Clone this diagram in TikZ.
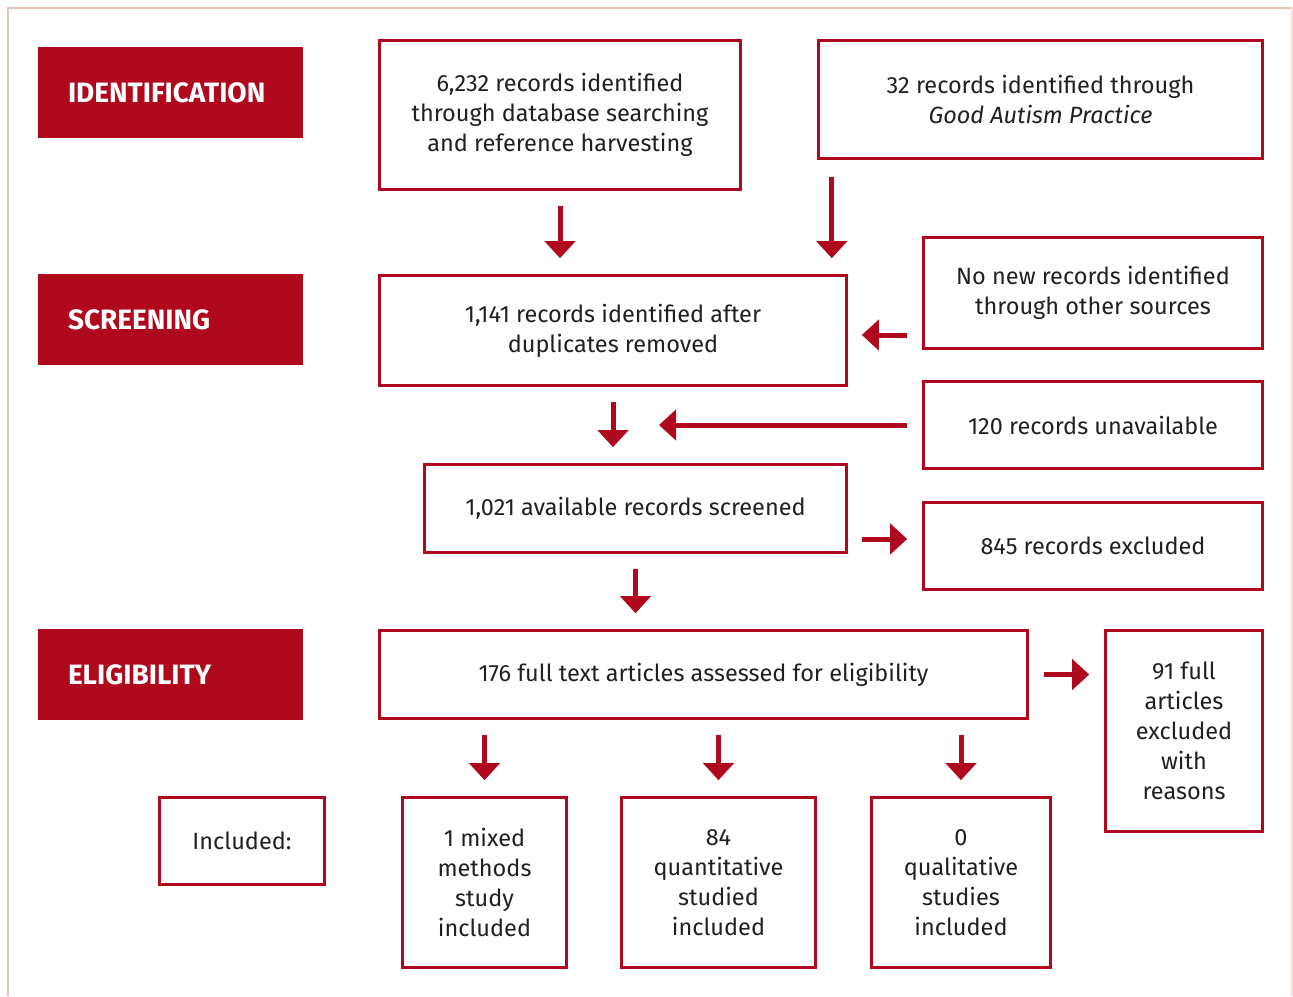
\documentclass[tikz,border=0pt]{standalone}
\usepackage{fontspec}
\setmainfont{Fira Sans}
\usetikzlibrary{arrows.meta}
\definecolor{prisred}{RGB}{176,9,30}
\definecolor{inkgray}{RGB}{35,31,32}
\definecolor{framepeach}{RGB}{232,196,178}
\definecolor{framepink}{RGB}{248,222,222}

\begin{document}
\begin{tikzpicture}[x=1pt,y=-1pt,
  box/.style={draw=prisred,line width=2.6pt,fill=white,text=inkgray,align=center,
    inner sep=0pt,font=\fontsize{23.5}{30}\selectfont},
  stage/.style={fill=prisred,text=white,align=left,inner xsep=30pt,text width=205pt,
    minimum width=265pt,minimum height=91pt,font=\fontsize{28}{30}\selectfont\bfseries},
  arr/.style={draw=prisred,line width=5pt,-{Triangle[length=17pt,width=30pt]},
    shorten <=15pt,shorten >=16pt}]
\useasboundingbox (0,0) rectangle (1293,996);
% frame
\draw[framepeach,line width=1.5pt] (8,996) -- (8,8) -- (1292,8);
\draw[framepink,line width=1.2pt] (1292,8) -- (1292,996);
% stages
\node[stage] (ident) at (170.5,92.5) {IDENTIFICATION};
\node[stage] (screen) at (170.5,319.5) {SCREENING};
\node[stage] (elig) at (170.5,674.5) {ELIGIBILITY};
% boxes
\node[box,minimum width=361pt,minimum height=149pt] (rec) at (560,115)
  {6,232 records identified\\through database searching\\and reference harvesting};
\node[box,minimum width=444pt,minimum height=118pt] (gap) at (1040.5,99.5)
  {32 records identified through\\\itshape Good Autism Practice};
\node[box,minimum width=467pt,minimum height=110pt] (dup) at (613,330.5)
  {1,141 records identified after\\duplicates removed};
\node[box,minimum width=339pt,minimum height=111pt] (other) at (1093,293)
  {No new records identified\\through other sources};
\node[box,minimum width=339pt,minimum height=87pt] (unav) at (1093,425)
  {120 records unavailable};
\node[box,minimum width=422pt,minimum height=88pt] (avail) at (635.5,508.5)
  {1,021 available records screened};
\node[box,minimum width=339pt,minimum height=87pt] (excl) at (1093,546)
  {845 records excluded};
\node[box,minimum width=648pt,minimum height=88pt] (full) at (703.5,674.5)
  {176 full text articles assessed for eligibility};
\node[box,minimum width=157pt,minimum height=201pt] (fullex) at (1184,731)
  {91 full\\articles\\excluded\\with\\reasons};
\node[box,minimum width=165pt,minimum height=87pt] (incl) at (242,841)
  {Included:};
\node[box,minimum width=164pt,minimum height=170pt] (mixed) at (484.5,882.5)
  {1 mixed\\methods\\study\\included};
\node[box,minimum width=194pt,minimum height=170pt] (quant) at (718.5,882.5)
  {84\\quantitative\\studied\\included};
\node[box,minimum width=179pt,minimum height=170pt] (qual) at (961,882.5)
  {0\\qualitative\\studies\\included};
% arrows
\coordinate (tipB) at ([xshift=-16pt]dup.north east);
\coordinate (tipD) at ([yshift=-4.5pt]dup.east);
\coordinate (join) at (dup.south |- unav.west);
\coordinate (tipE) at ([yshift=7pt]excl.west);
\draw[arr] (rec.south) -- (rec.south |- dup.north);
\draw[arr,shorten <=17pt] (gap.south -| tipB) -- (tipB);
\draw[arr,shorten >=14pt] (other.west |- tipD) -- (tipD);
\draw[arr] (dup.south) -- (dup.south |- avail.north);
\draw[arr,shorten >=46pt] (unav.west) -- (join);
\draw[arr,shorten <=14pt,shorten >=15pt] (avail.east |- tipE) -- (tipE);
\draw[arr] (avail.south) -- (avail.south |- full.north);
\draw[arr,shorten >=15pt] (full.east) -- (full.east -| fullex.west);
\foreach \n in {mixed,quant,qual}
  \draw[arr] (\n.north |- full.south) -- (\n.north);
\end{tikzpicture}
\end{document}
